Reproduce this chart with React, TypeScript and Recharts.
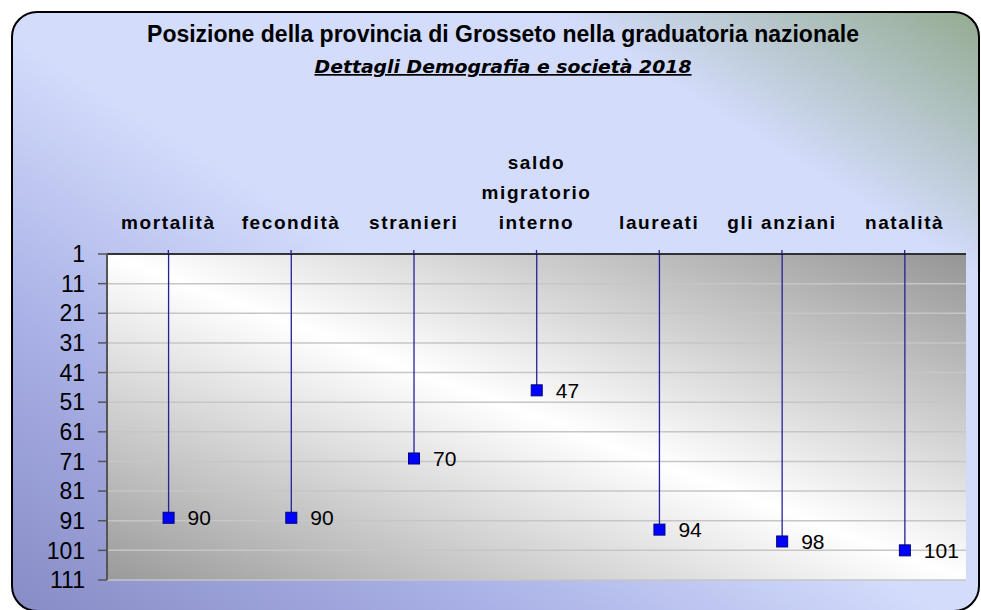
import React from 'react'
import { BarChart, Bar, XAxis, YAxis, CartesianGrid, LabelList } from 'recharts'

const TITLE = 'Posizione della provincia di Grosseto nella graduatoria nazionale'
const SUBTITLE = 'Dettagli Demografia e società 2018'

const categories = [
  'mortalità',
  'fecondità',
  'stranieri',
  'saldo migratorio interno',
  'laureati',
  'gli anziani',
  'natalità',
]
const positions = [90, 90, 70, 47, 94, 98, 101]
const yTicks = [1, 11, 21, 31, 41, 51, 61, 71, 81, 91, 101, 111]

const data = categories.map((name, i) => ({ name, pos: positions[i] }))

const FONT = '"Liberation Sans", Arial, sans-serif'
const LINE = '#22229a'

// etichette categoria in alto, una parola per riga se troppo lunghe
function TopTick(props: any) {
  const { x, y, payload } = props
  const label: string = payload.value
  const lines = label.length > 14 ? label.split(' ') : [label]
  const last = y - 21
  return (
    <g>
      {lines.map((l, i) => (
        <text
          key={i}
          x={x}
          y={last - (lines.length - 1 - i) * 30}
          textAnchor="middle"
          fontFamily={FONT}
          fontWeight="bold"
          fontSize={19}
          letterSpacing={1.6}
          fill="#000"
        >
          {l}
        </text>
      ))}
    </g>
  )
}

// linea verticale dall'asse fino al valore, con marcatore quadrato
function DropShape(props: any) {
  const { x, y, width, height } = props
  const cx = x + width / 2
  const top = Math.min(y, y + height)
  const bot = Math.max(y, y + height)
  return (
    <g>
      <line x1={cx} x2={cx} y1={top} y2={bot} stroke={LINE} strokeWidth={1.3} />
      <rect x={cx - 5.5} y={bot - 5.5} width={11} height={11} fill="#0000ff" stroke="#000080" strokeWidth={1} />
    </g>
  )
}

function ValueLabel(props: any) {
  const { x, y, width, height, value } = props
  const cx = x + width / 2
  const bot = Math.max(y, y + height)
  return (
    <text x={cx + 19} y={bot} dy="0.36em" fontFamily={FONT} fontSize={21} fill="#000">
      {value}
    </text>
  )
}

export default function App() {
  return (
    <div style={{ position: 'absolute', left: 0, top: 0, width: 981, height: 610, background: '#fff', overflow: 'hidden' }}>
      <svg width={981} height={610} style={{ position: 'absolute', left: 0, top: 0 }}>
        <defs>
          <linearGradient id="bgGrad" x1="0" y1="1" x2="1" y2="0">
            <stop offset="0" stopColor="#878bc6" />
            <stop offset="0.25" stopColor="#aab1e6" />
            <stop offset="0.48" stopColor="#d3dcfb" />
            <stop offset="0.78" stopColor="#d3dcfb" />
            <stop offset="1" stopColor="#93ab90" />
          </linearGradient>
        </defs>
        <rect x={12} y={12} width={967} height={599} rx={25} ry={25} fill="url(#bgGrad)" stroke="#000" strokeWidth={2} />
        <text x={503} y={42} textAnchor="middle" fontFamily={FONT} fontWeight="bold" fontSize={23} fill="#000">
          {TITLE}
        </text>
        <text
          x={503}
          y={73}
          textAnchor="middle"
          fontFamily='"DejaVu Sans", sans-serif'
          fontWeight="bold"
          fontStyle="italic"
          fontSize={17}
          textLength={377}
          lengthAdjust="spacingAndGlyphs"
          textDecoration="underline"
          fill="#000"
        >
          {SUBTITLE}
        </text>
      </svg>
      <div style={{ position: 'absolute', left: 0, top: 0 }}>
        <BarChart
          width={981}
          height={610}
          data={data}
          margin={{ top: 174, right: 15, bottom: 30, left: 47 }}
          barCategoryGap="40%"
        >
          <defs>
            <linearGradient id="plotGrad" x1="0" y1="1" x2="1" y2="0">
              <stop offset="0" stopColor="#9a9a9a" />
              <stop offset="0.5" stopColor="#ffffff" />
              <stop offset="1" stopColor="#959595" />
            </linearGradient>
          </defs>
          <CartesianGrid vertical={false} stroke="#c6c6c6" strokeWidth={1.5} fill="url(#plotGrad)" />
          <XAxis
            dataKey="name"
            orientation="top"
            height={80}
            axisLine={{ stroke: '#000', strokeWidth: 1.5 }}
            tickLine={{ stroke: LINE, strokeWidth: 1.3 }}
            tickSize={4}
            tickMargin={0}
            interval={0}
            tick={<TopTick />}
          />
          <YAxis
            reversed
            type="number"
            domain={[1, 111]}
            ticks={yTicks}
            interval={0}
            width={60}
            axisLine={{ stroke: '#555', strokeWidth: 2 }}
            tickLine={{ stroke: '#555', strokeWidth: 1.5 }}
            tickSize={9}
            tickMargin={13}
            tick={{ fontFamily: FONT, fontSize: 23, fill: '#000' }}
          />
          <Bar dataKey="pos" shape={<DropShape />} isAnimationActive={false}>
            <LabelList dataKey="pos" content={<ValueLabel />} />
          </Bar>
        </BarChart>
      </div>
    </div>
  )
}
